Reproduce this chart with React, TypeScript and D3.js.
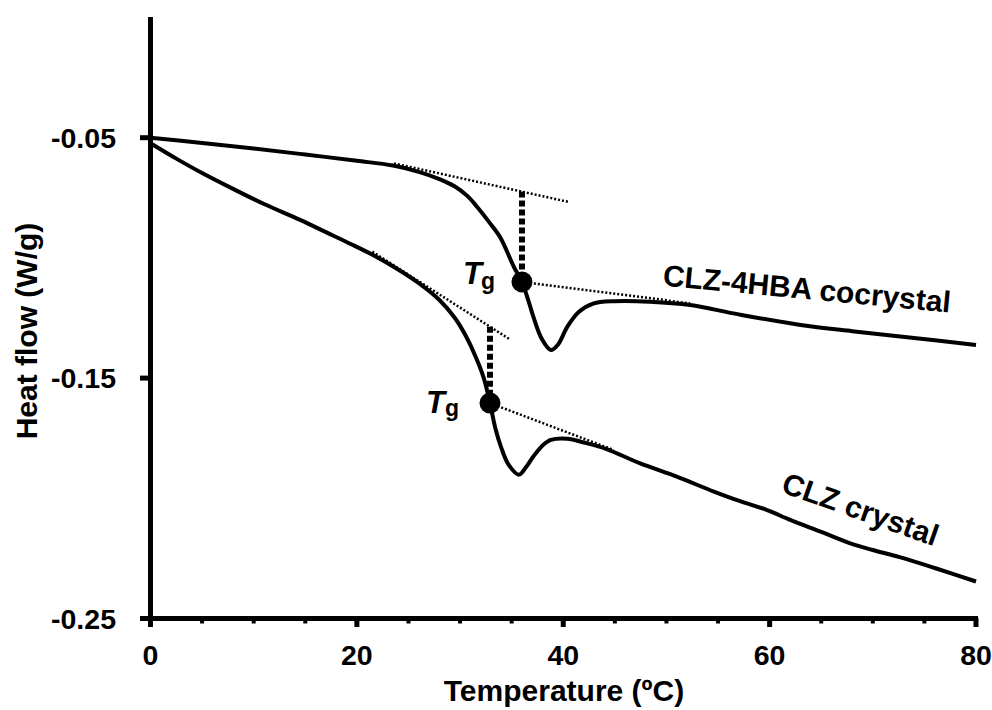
import React from "react";
import * as d3 from "d3";

// CLZ-4HBA cocrystal DSC trace
const coTemps = [0, 5, 10, 15, 20, 23.5, 26, 28, 29.5, 30.7, 31.6, 32.8, 33.9, 35.2, 36, 36.6, 37.1, 37.9, 38.8, 39.5, 40.4, 41.5, 42.9, 45, 48.4, 52.3, 57, 63, 68, 74, 80];
const coHeat = [-0.05, -0.0522, -0.0545, -0.057, -0.0596, -0.0616, -0.0642, -0.0672, -0.0703, -0.0742, -0.0785, -0.085, -0.0915, -0.1036, -0.11, -0.1175, -0.1244, -0.1335, -0.1383, -0.136, -0.1286, -0.1225, -0.119, -0.118, -0.1182, -0.1196, -0.1235, -0.1279, -0.1305, -0.1333, -0.1362];

// CLZ crystal DSC trace
const crTemps = [0, 2.5, 5, 8, 11, 14.5, 17, 19.5, 22, 24, 26, 28, 29.5, 30.5, 31.5, 32.3, 32.9, 33.4, 34, 34.7, 35.7, 36.4, 37.1, 38, 38.8, 40.4, 42, 44.2, 47.4, 51, 54.6, 57, 59.7, 62, 65, 68.1, 70, 72.6, 76, 80];
const crHeat = [-0.0523, -0.0587, -0.0647, -0.0713, -0.0776, -0.0842, -0.0893, -0.0944, -0.0998, -0.1048, -0.1105, -0.1175, -0.125, -0.132, -0.141, -0.15, -0.1604, -0.1705, -0.179, -0.186, -0.1902, -0.187, -0.1826, -0.178, -0.1757, -0.1752, -0.1768, -0.1795, -0.1854, -0.191, -0.1972, -0.201, -0.2048, -0.209, -0.214, -0.2192, -0.2215, -0.2245, -0.229, -0.2346];

// Tg construction (temperature, heat flow)
const tgPoints = [
  { t: 36.0, v: -0.11 },
  { t: 32.9, v: -0.1604 },
];
const tangentLines = [
  [{ t: 23.6, v: -0.0607 }, { t: 40.5, v: -0.0767 }],
  [{ t: 36.0, v: -0.11 }, { t: 52.3, v: -0.1189 }],
  [{ t: 21.5, v: -0.0974 }, { t: 34.9, v: -0.1341 }],
  [{ t: 32.9, v: -0.1604 }, { t: 44.9, v: -0.1799 }],
];
const tgVerticals = [
  { t: 36.0, top: -0.0724, bottom: -0.11 },
  { t: 32.9, top: -0.1286, bottom: -0.1604 },
];

const xMajorTicks = [0, 20, 40, 60, 80];
const xMinorTicks = [5, 10, 15, 25, 30, 35, 45, 50, 55, 65, 70, 75];
const yTicks = [-0.05, -0.15, -0.25];
const yTickLabels = ["-0.05", "-0.15", "-0.25"];

const FONT = "'Liberation Sans', Arial, sans-serif";

export default function App() {
  const x = d3.scaleLinear().domain([0, 80]).range([150.5, 976]);
  const y = d3.scaleLinear().domain([-0.25, 0]).range([618.5, 17.5]);

  const line = d3
    .line<[number, number]>()
    .x((d) => x(d[0]))
    .y((d) => y(d[1]))
    .curve(d3.curveCatmullRom.alpha(0.5));

  const coPath = line(coTemps.map((t, i) => [t, coHeat[i]] as [number, number])) || "";
  const crPath = line(crTemps.map((t, i) => [t, crHeat[i]] as [number, number])) || "";

  return (
    <svg
      width={992}
      height={710}
      style={{ position: "absolute", left: 0, top: 0, background: "#fff" }}
      fontFamily={FONT}
    >
      <rect width={992} height={710} fill="#fff" />
      {tangentLines.map((l, i) => (
        <line
          key={"tan" + i}
          x1={x(l[0].t)}
          y1={y(l[0].v)}
          x2={x(l[1].t)}
          y2={y(l[1].v)}
          stroke="#000"
          strokeWidth={2.5}
          strokeDasharray="2,2"
        />
      ))}
      {tgVerticals.map((d, i) => (
        <line
          key={"vert" + i}
          x1={x(d.t)}
          x2={x(d.t)}
          y1={y(d.top)}
          y2={y(d.bottom)}
          stroke="#000"
          strokeWidth={6}
          strokeDasharray="6,3"
        />
      ))}
      <path d={coPath} fill="none" stroke="#000" strokeWidth={4} strokeLinejoin="round" />
      <path d={crPath} fill="none" stroke="#000" strokeWidth={4} strokeLinejoin="round" />
      {tgPoints.map((p, i) => (
        <circle key={"tg" + i} cx={x(p.t)} cy={y(p.v)} r={10.5} fill="#000" />
      ))}

      <line x1={150.5} x2={150.5} y1={17} y2={621} stroke="#000" strokeWidth={5} />
      <line x1={148} x2={978} y1={618.5} y2={618.5} stroke="#000" strokeWidth={5} />
      {yTicks.map((t, i) => (
        <g key={"yt" + i}>
          <line x1={140} x2={150} y1={y(t)} y2={y(t)} stroke="#000" strokeWidth={5} />
          <text x={116} y={y(t) + 10} textAnchor="end" fontSize={28.5} fontWeight="bold">
            {yTickLabels[i]}
          </text>
        </g>
      ))}
      {xMajorTicks.map((t) => (
        <g key={"xt" + t}>
          <line x1={x(t)} x2={x(t)} y1={618} y2={627} stroke="#000" strokeWidth={5} />
          <text x={x(t)} y={665} textAnchor="middle" fontSize={28.5} fontWeight="bold">
            {t}
          </text>
        </g>
      ))}
      {xMinorTicks.map((t) => (
        <line key={"xm" + t} x1={x(t)} x2={x(t)} y1={618} y2={623.5} stroke="#000" strokeWidth={4} />
      ))}

      <text x={564} y={701} textAnchor="middle" fontSize={30} fontWeight="bold">
        Temperature (ºC)
      </text>
      <text transform="translate(37,331) rotate(-90)" textAnchor="middle" fontSize={30} fontWeight="bold">
        Heat flow (W/g)
      </text>

      <text x={463} y={284} fontSize={31} fontWeight="bold" fontStyle="italic">T</text>
      <text x={481} y={289} fontSize={23} fontWeight="bold">g</text>
      <text x={426} y={413} fontSize={31} fontWeight="bold" fontStyle="italic">T</text>
      <text x={445} y={416} fontSize={23} fontWeight="bold">g</text>

      <text transform="translate(806,299) rotate(5.4)" textAnchor="middle" fontSize={30} fontWeight="bold">
        CLZ-4HBA cocrystal
      </text>
      <text transform="translate(857,519) rotate(19.5)" textAnchor="middle" fontSize={30} fontWeight="bold">
        CLZ crystal
      </text>
    </svg>
  );
}
